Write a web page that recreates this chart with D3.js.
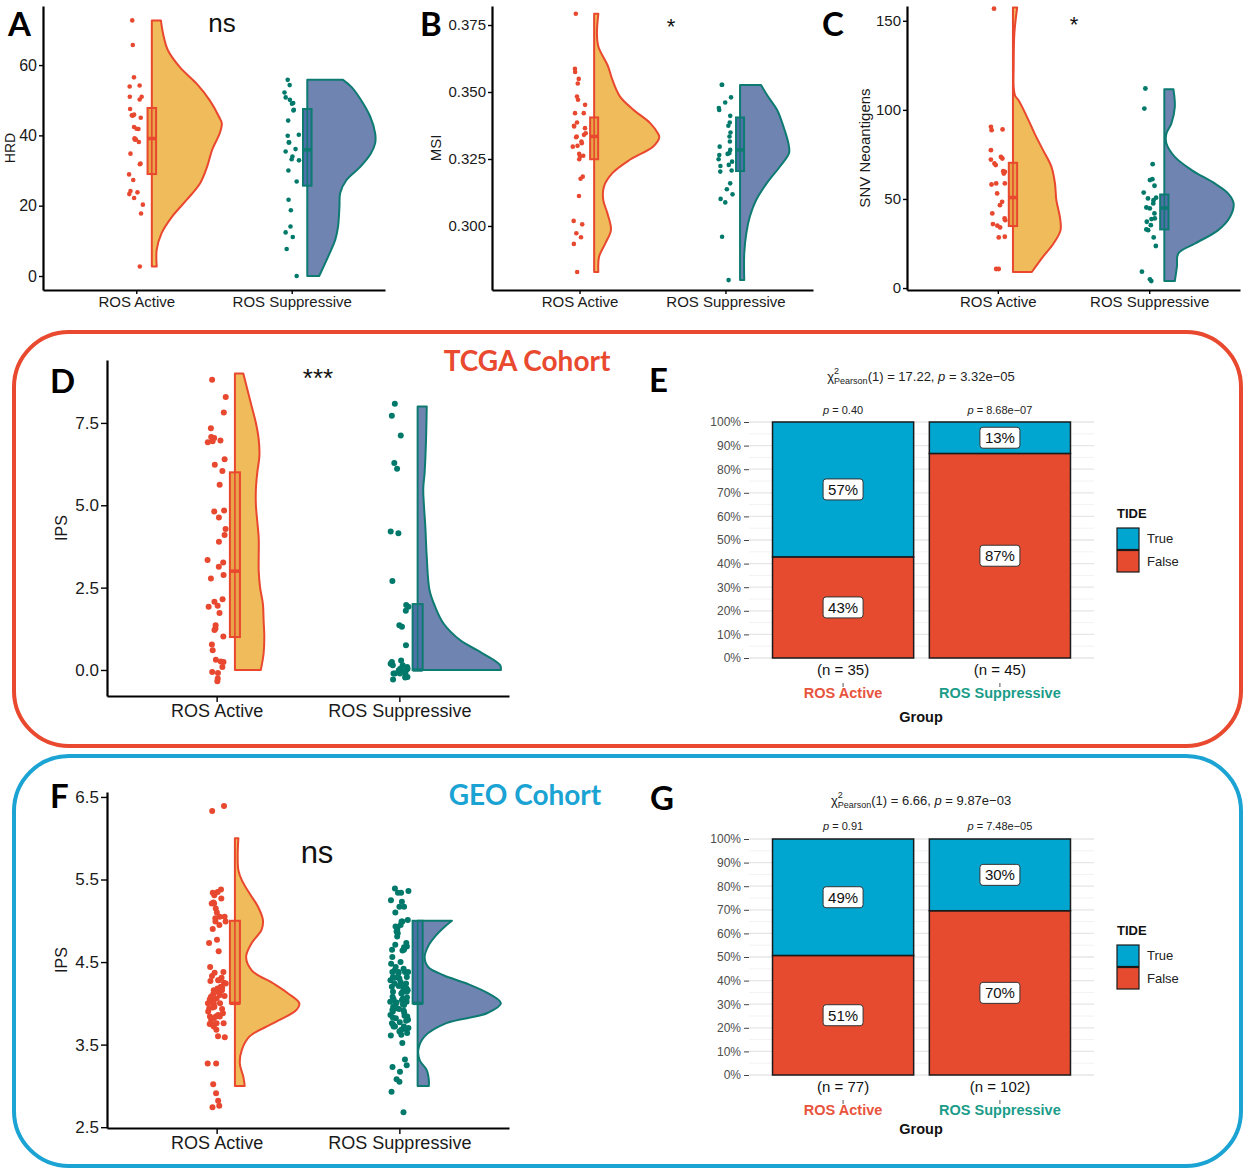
<!DOCTYPE html>
<html>
<head>
<meta charset="utf-8">
<script src="https://cdn.jsdelivr.net/npm/d3@7"></script>
<style>
  body { margin: 0; background: #fff; }
  svg { display: block; font-family: "Liberation Sans", Arial, sans-serif; }
  .lbl { font-family: Lato, "Open Sans", sans-serif; font-weight: 700; }
</style>
</head>
<body>
<svg id="fig" width="1250" height="1170"></svg>
<script>
const groups = ["ROS Active", "ROS Suppressive"];

// ---- A: HRD
const hrdActive = [72.7,65.7,56.5,53.9,54.2,51.0,51.0,50.2,47.5,45.7,45.0,45.6,45.9,42.4,41.9,41.8,39.2,38.8,38.1,38.8,34.8,31.8,32.0,28.9,27.3,24.2,23.8,23.3,22.2,20.3,17.8,2.7];
const hrdSupp = [55.8,54.3,52.2,50.8,50.1,49.2,49.0,47.3,47.1,44.2,39.9,40.2,38.0,38.0,36.1,35.4,34.0,33.2,32.9,30.0,26.9,21.7,18.7,12.4,14.1,11.1,7.7,0.0];
const hrdActiveBox = [29.0, 39.1, 47.8];
const hrdSuppBox = [25.7, 35.9, 47.5];
const hrdActiveDens = [[72.7,.13],[69,.16],[64.2,.23],[59.4,.40],[54.7,.64],[49.9,.83],[45.3,.96],[43.4,1.0],[40.6,.97],[35.8,.86],[31.1,.79],[26.4,.69],[21.7,.50],[16.9,.29],[12.2,.14],[7.5,.07],[2.7,.07]];
const hrdSuppDens = [[55.8,.51],[53.8,.63],[50,.77],[45.3,.90],[40.6,.97],[37.8,.97],[34.9,.91],[31.1,.76],[27.3,.56],[23.6,.47],[19.8,.46],[14.1,.44],[10.3,.40],[5.6,.30],[0,.17]];

// ---- B: MSI
const msiActive = [0.3792,0.3587,0.3575,0.3549,0.3532,0.3483,0.3471,0.3452,0.3421,0.3421,0.3386,0.3374,0.3371,0.3365,0.3340,0.3334,0.3346,0.3315,0.3309,0.3331,0.3296,0.3299,0.3269,0.3262,0.3249,0.3259,0.3176,0.3184,0.3112,0.3019,0.3006,0.2973,0.2958,0.2933,0.2828];
const msiSupp = [0.3527,0.3527,0.3480,0.3461,0.3440,0.3433,0.3411,0.3386,0.3374,0.3349,0.3334,0.3315,0.3296,0.3284,0.3249,0.3272,0.3265,0.3269,0.3240,0.3224,0.3228,0.3207,0.3203,0.3159,0.3137,0.3118,0.3101,0.3088,0.2960,0.2798];
const msiActiveBox = [0.3249, 0.3334, 0.3405];
const msiSuppBox = [0.3205, 0.3284, 0.3405];
const msiActiveDens = [[0.3792,.06],[0.372,.04],[0.367,.06],[0.3595,.20],[0.3546,.26],[0.3483,.37],[0.3434,.56],[0.3384,.80],[0.3346,.91],[0.3331,.93],[0.3296,.84],[0.3247,.51],[0.3197,.26],[0.3147,.14],[0.3097,.13],[0.3047,.19],[0.2985,.24],[0.2935,.16],[0.2885,.07],[0.2828,.06]];
const msiSuppDens = [[0.3526,.30],[0.3483,.40],[0.3433,.53],[0.3371,.62],[0.3309,.69],[0.3272,.70],[0.3222,.57],[0.3159,.38],[0.3097,.23],[0.3035,.14],[0.2973,.09],[0.2898,.06],[0.2798,.06]];

// ---- C: SNV neoantigens
const snvActive = [156.8,88.6,90.5,89,77.4,72.7,73.6,72.1,69.9,69,65.6,65.2,64.3,58.7,58.1,58.7,53.1,48.4,46.5,41.9,39.1,38.1,35.9,35.0,34.0,28.8,28.4,10.7,10.7];
const snvSupp = [112,100.7,69.5,57.4,61.1,60.6,53.6,50.7,49.3,50.3,45.2,38.7,39.1,37.2,32.9,32.5,35.3,28.4,23.6,9.2,3.9,4.9,41.9,44.7,47.5];
const snvActiveBox = [34.8, 50.8, 70.3];
const snvSuppBox = [32.9, 44.9, 52.5];
const snvActiveDens = [[157.4,.06],[142.8,.02],[124.1,.01],[112.9,.01],[108,.03],[105.4,.08],[96.1,.20],[86.7,.31],[77.4,.43],[68,.55],[58.7,.60],[49.3,.62],[40,.67],[32.5,.68],[25,.58],[17.6,.43],[9,.27]];
const snvSuppDens = [[111.6,.13],[101.7,.15],[92.3,.10],[86.7,.03],[81.1,.03],[73.6,.15],[66.2,.39],[58.7,.72],[53.1,.91],[47.5,.99],[40,.94],[32.5,.77],[25,.44],[19.4,.20],[12,.18],[3.9,.15]];

// ---- D: IPS, TCGA
const ipsActive = [8.81,8.29,7.82,7.34,6.97,6.94,6.91,7.07,7.04,6.40,6.23,6.04,5.62,4.84,4.81,4.63,4.28,4.10,3.89,3.34,3.26,3.13,2.88,2.78,2.15,2.07,1.95,1.92,1.73,1.36,1.26,1.21,1.02,0.77,0.60,0.31,0.26,0.24,0.09,-0.09,-0.06,-0.26,-0.34];
const ipsSupp = [8.08,7.72,7.12,6.28,6.11,4.20,4.15,2.70,1.97,1.92,1.80,1.36,1.31,0.75,0.29,0.24,0.14,0.04,0.09,0.01,0.04,-0.11,-0.06,-0.11,-0.21,-0.23,-0.29,-0.11,-0.01,0.19,0.19,-0.11,-0.21,-0.01,0.14];
const ipsActiveBox = [1, 3, 6];
const ipsSuppBox = [0, 0, 2];
const ipsActiveDens = [[9,.12],[8.5,.18],[8,.24],[7.5,.30],[7,.34],[6.5,.35],[6,.32],[5.5,.30],[5,.30],[4.5,.32],[4,.34],[3.5,.34],[3,.34],[2.5,.36],[2,.40],[1.5,.41],[1,.42],[0.5,.41],[0,.37]];
const ipsSuppDens = [[8,.13],[7,.12],[6,.10],[5.5,.08],[5,.09],[4.35,.11],[3.44,.13],[2.42,.17],[1.92,.25],[1.41,.37],[0.9,.61],[0.6,.85],[0.34,1.06],[0.14,1.18],[0,1.19]];

// ---- F: IPS, GEO
const geoActive = [6.33,6.39,5.38,5.35,5.31,5.27,5.22,5.21,5.15,5.10,5.05,5.05,4.99,5.03,4.95,4.90,4.77,4.73,4.63,4.38,4.31,4.33,4.28,4.25,4.24,4.19,4.18,4.20,4.17,4.13,4.11,4.09,4.06,4.05,4.01,4.00,3.95,3.94,3.93,3.90,3.86,3.84,3.84,3.80,3.76,3.75,3.72,3.74,3.68,3.60,3.59,3.27,3.27,3.02,2.91,2.82,2.76,2.74,
  4.28,4.37,4.27,4.16,4.05,3.96,4.00,3.88,3.82,3.76,3.84,4.00,4.08,4.44,5.34,5.21,4.99,4.16,4.10];
const geoSupp = [5.39,5.36,5.34,5.34,5.25,5.17,5.17,5.10,5.01,4.95,4.90,4.87,4.85,4.81,4.73,4.65,4.64,4.65,4.69,4.68,4.38,4.38,4.40,4.38,4.38,4.31,4.32,4.30,4.26,4.24,4.18,4.20,4.21,4.14,4.13,4.12,4.14,4.07,4.06,4.05,4.00,4.01,3.99,3.98,3.93,3.92,3.91,3.86,3.85,3.84,3.83,3.79,3.77,3.76,3.72,3.70,3.68,3.69,3.64,3.61,3.32,3.25,3.23,3.17,3.08,3.05,2.93,2.68,
  4.36,4.28,4.24,4.22,4.04,4.02,3.96,3.94,3.90,3.89,3.82,3.80,3.66,3.62,4.16,4.08,4.44,4.50,4.42,4.32,4.18,3.72,3.74,3.72,3.96,4.02,4.99,4.93,4.71,4.99,5.23,4.56,4.48,3.52];
const geoActiveBox = [4, 4, 5];
const geoSuppBox = [4, 4, 5];
const geoActiveDens = [[6,.05],[5.81,.04],[5.61,.05],[5.49,.10],[5.33,.21],[5.17,.33],[5.01,.40],[4.89,.38],[4.73,.24],[4.56,.16],[4.40,.24],[4.24,.55],[4.12,.76],[4.0,.92],[3.92,.88],[3.76,.55],[3.6,.21],[3.44,.10],[3.27,.07],[3.11,.12],[3.0,.14]];
const geoSuppDens = [[5,.49],[4.93,.39],[4.81,.25],[4.69,.15],[4.56,.10],[4.44,.15],[4.34,.37],[4.24,.70],[4.12,1.01],[4.0,1.19],[3.88,.99],[3.76,.41],[3.6,.10],[3.44,.01],[3.31,.03],[3.19,.13],[3.07,.16],[3,.16]];

// ---- E / G: TIDE counts
const tcgaN = [35, 45];
const tcgaTrue = [20, 6];
const tcgaFalse = [15, 39];
const tcgaP = ["0.40", "8.68e\u221207"];
const geoN = [77, 102];
const geoTrue = [38, 31];
const geoFalse = [39, 71];
const geoP = ["0.91", "7.48e\u221205"];

const pctTicks = d3.range(0, 101, 10);

// ---------------------------------------------------------------
const svg = d3.select("#fig");
const ptCol = ["#E8482F", "#00796B"];
const vFill = ["#EFBB5B", "#6F84B0"];
const vLine = ["#E9472E", "#0D7B72"];
const boxFill = ["#E7A449", "#5070A8"];
const barCol = { True: "#00A5D0", False: "#E64B30" };
const grpCol = ["#E8533C", "#1A9C89"];

function letter(t, x, y) {
  svg.append("text").attr("class", "lbl").attr("x", x).attr("y", y)
    .style("font-size", "33px").text(t);
}

function drawRain(o) {
  const g = svg.append("g");
  const x = d3.scalePoint().domain(groups).range([o.left, o.right]).padding(0.6);
  const step = x.step();
  const y = d3.scaleLinear().domain(o.domain).range([o.bottom, o.top]);
  const w = d3.scaleLinear().domain([0, 1]).range([0, 70]);

  o.series.forEach((s, i) => {
    const cx = x(groups[i]);
    const edge = cx + 0.1 * step;
    const bw = 0.055 * step;
    const area = d3.area()
      .y(d => y(d[0]))
      .x0(edge)
      .x1(d => edge + w(d[1]))
      .curve(d3.curveCatmullRom);
    g.append("path").datum(s.dens).attr("d", area)
      .attr("fill", vFill[i]).attr("stroke", vLine[i])
      .attr("stroke-width", 2).attr("stroke-linejoin", "round");

    g.append("rect")
      .attr("x", edge - bw / 2).attr("width", bw)
      .attr("y", y(s.box[2])).attr("height", y(s.box[0]) - y(s.box[2]))
      .attr("fill", boxFill[i]).attr("stroke", vLine[i]).attr("stroke-width", 2);
    g.append("line")
      .attr("x1", edge).attr("x2", edge)
      .attr("y1", y(s.box[2])).attr("y2", y(s.box[0]))
      .attr("stroke", vLine[i]).attr("stroke-width", 1.6);
    g.append("line")
      .attr("x1", edge - bw / 2).attr("x2", edge + bw / 2)
      .attr("y1", y(s.box[1])).attr("y2", y(s.box[1]))
      .attr("stroke", vLine[i]).attr("stroke-width", 3.5);

    const jit = d3.randomUniform.source(d3.randomLcg(o.seed + i))(-0.05 * step, 0.05 * step);
    g.append("g").selectAll("circle").data(s.pts).join("circle")
      .attr("cx", () => cx + jit())
      .attr("cy", d => y(d))
      .attr("r", o.r)
      .attr("fill", ptCol[i]);
  });

  const ya = g.append("g").attr("transform", `translate(${o.left},0)`)
    .call(d3.axisLeft(y).tickValues(o.ticks).tickFormat(o.fmt)
      .tickSize(o.tick).tickSizeOuter(0).tickPadding(2));
  const xa = g.append("g").attr("transform", `translate(0,${o.bottom})`)
    .call(d3.axisBottom(x).tickSize(o.tick).tickSizeOuter(0).tickPadding(2));
  [ya, xa].forEach(a => {
    a.select(".domain").attr("stroke", "#000").attr("stroke-width", 2.2);
    a.selectAll(".tick line").attr("stroke", "#000").attr("stroke-width", 1.4);
    a.selectAll(".tick text").attr("fill", "#1a1a1a")
      .style("font-family", "'Liberation Sans', Arial, sans-serif");
  });
  ya.selectAll(".tick text").style("font-size", o.yFont + "px");
  xa.selectAll(".tick text").style("font-size", o.xFont + "px");

  g.append("text")
    .attr("transform", `translate(${o.titleX},${(o.top + o.bottom) / 2 + o.titleDy}) rotate(-90)`)
    .attr("text-anchor", "middle").attr("dy", "0.35em")
    .style("font-size", o.titleFont + "px").attr("fill", "#1a1a1a").text(o.title);

  g.append("text").attr("x", o.sig[0]).attr("y", o.sig[1]).attr("text-anchor", "middle")
    .style("font-size", o.sig[3] + "px").attr("fill", "#111").text(o.sig[2]);
}

function drawBars(o) {
  const g = svg.append("g");
  const x = d3.scalePoint().domain(groups).range([749, 1094]).padding(0.6);
  const bw = 0.9 * x.step();
  const y = d3.scaleLinear().domain([0, 100]).range([o.y0, o.y1]);

  g.append("g").selectAll("line").data(d3.range(5, 100, 10)).join("line")
    .attr("x1", 749).attr("x2", 1094).attr("y1", d => y(d)).attr("y2", d => y(d))
    .attr("stroke", "#F2F2F2").attr("stroke-width", 1);
  g.append("g").selectAll("line").data(pctTicks).join("line")
    .attr("x1", 749).attr("x2", 1094).attr("y1", d => y(d)).attr("y2", d => y(d))
    .attr("stroke", "#E6E6E6").attr("stroke-width", 1.3);

  const ya = g.append("g").attr("transform", "translate(749,0)")
    .call(d3.axisLeft(y).tickValues(pctTicks).tickFormat(d => d + "%").tickSize(5).tickPadding(3));
  ya.select(".domain").remove();
  ya.selectAll(".tick line").attr("stroke", "#444");
  ya.selectAll(".tick text").attr("fill", "#4D4D4D").style("font-size", "12px");

  groups.forEach((gname, i) => {
    const cx = x(gname);
    const n = o.n[i];
    const tp = o.t[i] / n * 100, fp = o.f[i] / n * 100;
    const segs = [
      { key: "False", lo: 0, hi: fp, v: fp },
      { key: "True", lo: fp, hi: 100, v: tp }
    ];
    segs.forEach(s => {
      g.append("rect").attr("x", cx - bw / 2).attr("width", bw)
        .attr("y", y(s.hi)).attr("height", y(s.lo) - y(s.hi))
        .attr("fill", barCol[s.key]).attr("stroke", "#1a1a1a").attr("stroke-width", 1.5);
    });
    segs.forEach(s => {
      const my = y((s.lo + s.hi) / 2);
      g.append("rect").attr("x", cx - 20).attr("y", my - 10.5).attr("width", 40).attr("height", 21)
        .attr("rx", 3).attr("fill", "#fff").attr("stroke", "#333").attr("stroke-width", 1);
      g.append("text").attr("x", cx).attr("y", my + 5.5).attr("text-anchor", "middle")
        .style("font-size", "15px").attr("fill", "#111").text(Math.round(s.v) + "%");
    });
    // p above bar
    const pt = g.append("text").attr("x", cx).attr("y", o.pY).attr("text-anchor", "middle")
      .style("font-size", "11px").attr("fill", "#222");
    pt.append("tspan").style("font-style", "italic").text("p");
    pt.append("tspan").text(" = " + o.p[i]);
    // x labels
    g.append("text").attr("x", cx).attr("y", o.nY).attr("text-anchor", "middle")
      .style("font-size", "15px").attr("fill", "#111").text(`(n = ${n})`);
    g.append("line").attr("x1", cx).attr("x2", cx).attr("y1", o.nY + 8).attr("y2", o.nY + 12)
      .attr("stroke", "#555").attr("stroke-width", 1);
    g.append("text").attr("x", cx).attr("y", o.gY).attr("text-anchor", "middle")
      .style("font-size", "14.5px").style("font-weight", "bold").attr("fill", grpCol[i]).text(gname);
  });

  g.append("text").attr("x", 921).attr("y", o.groupY).attr("text-anchor", "middle")
    .style("font-size", "14.5px").style("font-weight", "bold").attr("fill", "#111").text("Group");

  // title
  const t = g.append("text").attr("x", 921).attr("y", o.titleY).attr("text-anchor", "middle")
    .style("font-size", "13px").attr("fill", "#222");
  t.append("tspan").text("\u03c7");
  t.append("tspan").attr("dy", -7).style("font-size", "9px").text("2");
  t.append("tspan").attr("dx", -5).attr("dy", 10).style("font-size", "9px").text("Pearson");
  t.append("tspan").attr("dy", -3).text(`(1) = ${o.chi}, `);
  t.append("tspan").style("font-style", "italic").text("p");
  t.append("tspan").text(" = " + o.chiP);

  // legend
  const lg = g.append("g").attr("transform", `translate(1117,${o.legY})`);
  lg.append("text").attr("x", 0).attr("y", 5).style("font-size", "13px").style("font-weight", "bold")
    .attr("fill", "#111").text("TIDE");
  ["True", "False"].forEach((k, j) => {
    lg.append("rect").attr("x", 0).attr("y", 15 + j * 22.5).attr("width", 22).attr("height", 21.5)
      .attr("fill", barCol[k]).attr("stroke", "#1a1a1a").attr("stroke-width", 1.2);
    lg.append("text").attr("x", 30).attr("y", 30 + j * 23).style("font-size", "13px")
      .attr("fill", "#222").text(k);
  });
}

// cohort frames
svg.append("rect").attr("x", 14).attr("y", 332).attr("width", 1227).attr("height", 414)
  .attr("rx", 55).attr("fill", "none").attr("stroke", "#E8492F").attr("stroke-width", 4);
svg.append("rect").attr("x", 14).attr("y", 756).attr("width", 1227).attr("height", 410)
  .attr("rx", 55).attr("fill", "none").attr("stroke", "#1AA3D3").attr("stroke-width", 4);
svg.append("text").attr("class", "lbl").attr("x", 527).attr("y", 371).attr("text-anchor", "middle")
  .style("font-size", "28px").attr("fill", "#E8492F").text("TCGA Cohort");
svg.append("text").attr("class", "lbl").attr("x", 525).attr("y", 805).attr("text-anchor", "middle")
  .style("font-size", "28px").attr("fill", "#1AA3D3").text("GEO Cohort");

drawRain({
  left: 43, right: 385, top: 6, bottom: 290, domain: [-3.98, 76.8], ticks: [0, 20, 40, 60], fmt: d3.format("d"),
  tick: 4, yFont: 16, xFont: 15, r: 2.3, seed: 11, title: "HRD", titleX: 10, titleDy: 0, titleFont: 14,
  sig: [222, 32, "ns", 26],
  series: [{ pts: hrdActive, box: hrdActiveBox, dens: hrdActiveDens }, { pts: hrdSupp, box: hrdSuppBox, dens: hrdSuppDens }]
});
drawRain({
  left: 492, right: 813, top: 6, bottom: 290, domain: [0.2761, 0.3821], ticks: [0.300, 0.325, 0.350, 0.375], fmt: d3.format(".3f"),
  tick: 4, yFont: 15, xFont: 15, r: 2.3, seed: 21, title: "MSI", titleX: 436, titleDy: 0, titleFont: 15,
  sig: [671, 34, "*", 22],
  series: [{ pts: msiActive, box: msiActiveBox, dens: msiActiveDens }, { pts: msiSupp, box: msiSuppBox, dens: msiSuppDens }]
});
drawRain({
  left: 907, right: 1240, top: 6, bottom: 290, domain: [-1.1, 158.3], ticks: [0, 50, 100, 150], fmt: d3.format("d"),
  tick: 4, yFont: 15, xFont: 15, r: 2.4, seed: 31, title: "SNV Neoantigens", titleX: 865, titleDy: 0, titleFont: 15,
  sig: [1074, 32, "*", 22],
  series: [{ pts: snvActive, box: snvActiveBox, dens: snvActiveDens }, { pts: snvSupp, box: snvSuppBox, dens: snvSuppDens }]
});
drawRain({
  left: 107, right: 509, top: 360, bottom: 696, domain: [-0.79, 9.41], ticks: [0, 2.5, 5, 7.5], fmt: d3.format(".1f"),
  tick: 6, yFont: 17, xFont: 18, r: 3, seed: 41, title: "IPS", titleX: 61, titleDy: 0, titleFont: 16,
  sig: [318, 387, "***", 26],
  series: [{ pts: ipsActive, box: ipsActiveBox, dens: ipsActiveDens }, { pts: ipsSupp, box: ipsSuppBox, dens: ipsSuppDens }]
});
drawRain({
  left: 107, right: 509, top: 792, bottom: 1128, domain: [2.49, 6.56], ticks: [2.5, 3.5, 4.5, 5.5, 6.5], fmt: d3.format(".1f"),
  tick: 6, yFont: 17, xFont: 18, r: 3, seed: 51, title: "IPS", titleX: 61, titleDy: 0, titleFont: 16,
  sig: [317, 863, "ns", 31],
  series: [{ pts: geoActive, box: geoActiveBox, dens: geoActiveDens }, { pts: geoSupp, box: geoSuppBox, dens: geoSuppDens }]
});

drawBars({
  y0: 658, y1: 422, n: tcgaN, t: tcgaTrue, f: tcgaFalse, p: tcgaP, pY: 414, nY: 675, gY: 698, groupY: 722,
  titleY: 381, chi: "17.22", chiP: "3.32e\u221205", legY: 513
});
drawBars({
  y0: 1075, y1: 839, n: geoN, t: geoTrue, f: geoFalse, p: geoP, pY: 830, nY: 1092, gY: 1115, groupY: 1134,
  titleY: 805, chi: "6.66", chiP: "9.87e\u221203", legY: 930
});

letter("A", 8, 36);
letter("B", 420, 36);
letter("C", 822, 36);
letter("D", 50, 393);
letter("E", 649, 392);
letter("F", 50, 808);
letter("G", 650, 810);
</script>
</body>
</html>
